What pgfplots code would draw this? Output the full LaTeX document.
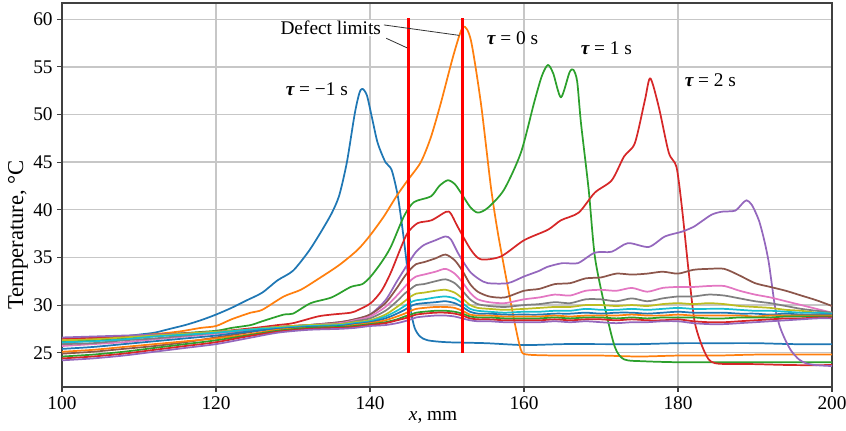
\documentclass[border=0pt]{standalone}
\usepackage{pgfplots}
\pgfplotsset{compat=1.18}
\usepackage{fontspec}
\setmainfont{Liberation Serif}
\definecolor{c1}{HTML}{1F77B4}
\definecolor{c2}{HTML}{FF7F0E}
\definecolor{c3}{HTML}{2CA02C}
\definecolor{c4}{HTML}{D62728}
\definecolor{c5}{HTML}{9467BD}
\definecolor{c6}{HTML}{8C564B}
\definecolor{c7}{HTML}{E377C2}
\definecolor{c8}{HTML}{7F7F7F}
\definecolor{c9}{HTML}{BCBD22}
\definecolor{c10}{HTML}{17BECF}
\newcommand{\tl}{{\bfseries\itshape τ}}
\begin{document}
\begin{tikzpicture}
\begin{axis}[
  scale only axis,
  width=577.5pt, height=288pt,
  xmin=100, xmax=200, ymin=21.4, ymax=61.7,
  xtick={100,120,...,200}, ytick={25,30,...,60},
  grid=major,
  major grid style={draw=black!22, line width=1pt},
  axis line style={draw=black!75, line width=1pt},
  tick style={draw=black!75, line width=0.8pt},
  tick align=outside, major tick length=3.5pt,
  xtick pos=lower, ytick pos=left,
  ticklabel style={font=\fontsize{14.5}{16}\selectfont},
  /pgf/number format/assume math mode=true,
  xlabel={\textit{x}, mm},
  ylabel={Temperature, °C},
  every axis x label/.style={at={(rel axis cs:0.482,0)}, anchor=center, yshift=-22.5pt, font=\fontsize{14.5}{16}\selectfont},
  every axis y label/.style={at={(rel axis cs:0,0.396)}, anchor=center, rotate=90, yshift=33pt, font=\fontsize{17}{19}\selectfont},
  every axis plot/.append style={line width=1.3pt, no markers, line join=round, smooth, tension=0.45},
]
% tau = -1 s
\addplot[c1] coordinates {(100,26.0) (105,26.4) (110,26.9) (112,27.1) (114,27.5) (116,27.9) (118,28.4) (120,29.0) (122,29.7) (124,30.5) (126,31.3) (128,32.6) (130,33.6) (132,35.6) (133.5,37.5) (135,39.6) (136,41.5) (137,45.0) (138,50.0) (138.6,52.2) (139,52.7) (139.6,52.0) (140.3,49.5) (141,47.0) (142,45.0) (142.8,44.2) (143.6,41.5) (144.3,37.5) (144.9,33.4) (145.3,29.5) (145.8,27.6) (146.5,26.7) (147.5,26.3) (150,26.1) (155,26.0) (160,25.8) (165,25.9) (170,25.9) (175,25.9) (180,26.0) (185,26.0) (190,26.0) (195,25.9) (200,25.9)};
% tau = 0 s
\addplot[c2] coordinates {(100,26.3) (105,26.5) (110,26.8) (115,27.2) (118,27.6) (120,27.8) (122,28.5) (124.5,29.2) (126,29.5) (128.8,30.9) (131,31.6) (133.2,32.7) (136,34.2) (138.4,35.8) (140,37.3) (141.8,39.3) (143.5,41.5) (144.9,43.1) (146.6,45.0) (147.9,47.6) (149.2,51.2) (150.9,56.4) (152.1,59.2) (153.1,57.8) (154.4,51.2) (155.7,42.4) (156.6,37.6) (157.9,31.9) (158.7,28.5) (159.6,25.3) (160.5,24.8) (165,24.7) (170,24.7) (175,24.6) (180,24.7) (185,24.7) (190,24.8) (195,24.8) (200,24.8)};
% tau = 1 s
\addplot[c3] coordinates {(100,26.2) (105,26.4) (110,26.6) (115,27.0) (120,27.3) (122,27.6) (124.5,27.9) (126,28.3) (128.8,29.0) (130,29.1) (132.3,30.2) (135,30.8) (137.5,31.9) (139,32.2) (140.1,33.0) (141.5,34.5) (142.7,36.1) (144.4,39.3) (145.7,40.8) (147.9,41.4) (149,42.5) (150.1,43.1) (151,42.7) (151.8,41.8) (153,40.3) (154,39.7) (155.3,40.2) (157.4,42.1) (159.6,46.0) (161.3,51.2) (162.3,54.0) (163.1,55.2) (163.8,54.3) (164.8,51.8) (165.9,54.4) (166.4,54.7) (166.9,53.5) (167.4,49.1) (168.4,42.1) (169.2,35.1) (170.5,29.8) (171.8,25.6) (173,24.3) (175.6,24.1) (180,24.0) (185,24.0) (190,24.0) (195,24.0) (200,24.0)};
% tau = 2 s
\addplot[c4] coordinates {(100,26.5) (105,26.6) (110,26.8) (115,27.0) (120,27.2) (125,27.6) (128,27.9) (130,28.1) (133.2,28.8) (135,29.0) (137.5,29.2) (138.5,29.5) (140.1,30.2) (141.5,31.5) (142.7,33.4) (144,36.0) (144.9,37.6) (146.2,38.6) (148,38.9) (149.9,39.8) (150.5,39.6) (151.4,38.2) (153.1,35.8) (154.4,34.8) (157,35.1) (160,36.8) (163.1,37.9) (164.8,38.9) (167.1,39.7) (169.2,41.8) (171.4,43.1) (173,45.6) (174.4,47.0) (175.7,51.5) (176.4,53.8) (177.5,50.8) (178.8,46.0) (179.8,44.5) (180.5,40.3) (181.4,33.4) (182.2,28.1) (183.5,25.0) (184.8,23.9) (190,23.8) (195,23.7) (200,23.7)};
% tau = 3 s
\addplot[c5] coordinates {(100,26.6) (104,26.7) (108,26.8) (112,26.9) (116,27.0) (120,27.2) (124,27.4) (128,27.7) (132,27.9) (136,28.2) (138,28.5) (140,29.0) (142,30.5) (143.5,32.5) (144.5,33.8) (145.3,34.8) (146,35.6) (147,36.3) (148.5,36.8) (149.8,37.2) (150.5,36.9) (151.4,35.5) (152.3,34.3) (153.1,33.4) (154.2,32.7) (155.3,32.3) (157.9,32.3) (160,33.0) (162,33.6) (163,34.0) (165,34.4) (167,34.4) (169.2,35.5) (171.4,35.6) (173.5,36.5) (176.2,36.1) (178.3,37.2) (180.5,37.7) (182,38.2) (183.1,38.8) (184.4,39.5) (185.7,39.8) (187.4,39.9) (188.3,40.6) (188.9,41.0) (189.6,40.5) (190.5,38.9) (191.2,36.8) (191.8,34.4) (192.6,29.8) (193.2,27.8) (193.9,26.4) (194.7,25.2) (195.7,24.3) (196.6,23.9) (197.8,23.7) (200,23.6)};
% later curves
\addplot[c6] coordinates {(100,24.9) (104,25.1) (108,25.4) (112,25.7) (116,26.1) (120,26.6) (124,27.1) (128,27.6) (132,27.9) (136,28.2) (138,28.5) (140,29.0) (142,30.2) (143.5,31.8) (144.5,33.0) (145.3,33.8) (146,34.3) (147,34.5) (148.5,34.9) (149.8,35.3) (151,34.7) (152,33.6) (153,32.2) (154,31.4) (155.5,30.9) (157.5,30.8) (160,31.5) (162,31.7) (164,32.2) (166,32.3) (168,32.8) (170,32.9) (172,33.3) (174,33.2) (176,33.3) (178,33.5) (180,33.3) (182,33.7) (184,33.8) (186,33.8) (188,33.1) (190,32.3) (192,31.9) (194,31.5) (196,31.0) (198,30.5) (200,29.9)};
\addplot[c7] coordinates {(100,25.7) (104,25.9) (108,26.1) (112,26.4) (116,26.7) (120,27.0) (124,27.3) (128,27.7) (132,27.9) (136,28.1) (138,28.4) (140,28.8) (142,29.8) (143.5,31.0) (144.5,31.9) (145.3,32.6) (146,33.0) (147,33.2) (148.5,33.5) (149.8,33.8) (151,33.3) (152,32.4) (153,31.3) (154,30.6) (155.5,30.3) (157.5,30.2) (160,30.6) (162,30.8) (164,31.1) (166,31.0) (168,31.5) (170,31.6) (172,31.5) (174,31.8) (176,31.4) (178,31.8) (180,31.9) (182,31.9) (184,32.0) (186,32.0) (188,31.5) (190,31.1) (192,30.8) (194,30.4) (196,30.0) (198,29.6) (200,29.2)};
\addplot[c8] coordinates {(100,25.9) (104,26.0) (108,26.3) (112,26.5) (116,26.8) (120,27.1) (124,27.4) (128,27.7) (132,27.9) (136,28.0) (138,28.3) (140,28.6) (142,29.4) (143.5,30.4) (144.5,31.2) (145.3,31.7) (146,32.1) (147,32.2) (148.5,32.5) (149.8,32.7) (151,32.3) (152,31.5) (153,30.6) (154,30.1) (155.5,29.9) (157.5,29.8) (160,30.0) (162,30.1) (164,30.3) (166,30.2) (168,30.6) (170,30.6) (172,30.4) (174,30.7) (176,30.4) (178,30.7) (180,30.9) (182,30.9) (184,31.1) (186,31.0) (188,30.7) (190,30.4) (192,30.2) (194,29.9) (196,29.6) (198,29.4) (200,29.2)};
\addplot[c9] coordinates {(100,26.3) (104,26.4) (108,26.6) (112,26.8) (116,27.0) (120,27.2) (124,27.4) (128,27.7) (132,27.9) (136,28.0) (138,28.2) (140,28.4) (142,29.0) (143.5,29.8) (144.5,30.4) (145.3,30.9) (146,31.2) (147,31.3) (148.5,31.5) (149.8,31.6) (151,31.3) (152,30.7) (153,30.0) (154,29.7) (155.5,29.6) (157.5,29.5) (160,29.6) (162,29.7) (164,29.8) (166,29.8) (168,30.0) (170,30.0) (172,29.9) (174,30.0) (176,29.9) (178,30.1) (180,30.2) (182,30.1) (184,30.2) (186,30.1) (188,29.9) (190,29.8) (192,29.7) (194,29.5) (196,29.4) (198,29.2) (200,29.1)};
\addplot[c10] coordinates {(100,26.1) (104,26.2) (108,26.4) (112,26.7) (116,26.9) (120,27.1) (124,27.4) (128,27.6) (132,27.8) (136,27.9) (138,28.1) (140,28.3) (142,28.8) (143.5,29.4) (144.5,29.9) (145.3,30.3) (146,30.5) (147,30.6) (148.5,30.8) (149.8,30.9) (151,30.7) (152,30.2) (153,29.6) (154,29.4) (155.5,29.3) (157.5,29.2) (160,29.3) (162,29.3) (164,29.4) (166,29.4) (168,29.6) (170,29.5) (172,29.5) (174,29.6) (176,29.5) (178,29.6) (180,29.7) (182,29.6) (184,29.6) (186,29.6) (188,29.5) (190,29.4) (192,29.4) (194,29.3) (196,29.2) (198,29.2) (200,29.1)};
\addplot[c1] coordinates {(100,25.4) (104,25.6) (108,25.9) (112,26.2) (116,26.5) (120,26.8) (124,27.2) (128,27.5) (132,27.7) (136,27.8) (138,28.0) (140,28.2) (142,28.6) (143.5,29.1) (144.5,29.5) (145.3,29.9) (146,30.1) (147,30.2) (148.5,30.3) (149.8,30.4) (151,30.2) (152,29.8) (153,29.3) (154,29.1) (155.5,29.1) (157.5,29.0) (160,29.0) (162,29.0) (164,29.1) (166,29.1) (168,29.2) (170,29.1) (172,29.2) (174,29.2) (176,29.1) (178,29.2) (180,29.3) (182,29.2) (184,29.2) (186,29.2) (188,29.1) (190,29.1) (192,29.0) (194,29.1) (196,29.0) (198,29.0) (200,29.0)};
\addplot[c2] coordinates {(100,25.1) (104,25.3) (108,25.6) (112,25.9) (116,26.2) (120,26.5) (124,26.9) (128,27.4) (132,27.6) (136,27.7) (138,27.9) (140,28.1) (142,28.4) (143.5,28.8) (144.5,29.1) (145.3,29.4) (146,29.6) (147,29.7) (148.5,29.8) (149.8,29.8) (151,29.7) (152,29.4) (153,29.0) (154,28.9) (155.5,28.9) (157.5,28.8) (160,28.8) (162,28.8) (164,28.9) (166,28.8) (168,28.9) (170,28.9) (172,28.9) (174,29.0) (176,28.9) (178,28.9) (180,29.0) (182,28.9) (184,28.9) (186,28.9) (188,28.9) (190,28.8) (192,28.9) (194,28.9) (196,28.9) (198,28.9) (200,28.9)};
\addplot[c3] coordinates {(100,24.6) (104,24.8) (108,25.1) (112,25.5) (116,25.9) (120,26.3) (124,26.8) (128,27.3) (132,27.6) (136,27.7) (138,27.8) (140,28.0) (142,28.2) (143.5,28.5) (144.5,28.8) (145.3,29.0) (146,29.2) (147,29.3) (148.5,29.4) (149.8,29.4) (151,29.3) (152,29.1) (153,28.8) (154,28.7) (155.5,28.7) (157.5,28.6) (160,28.6) (162,28.6) (164,28.7) (166,28.6) (168,28.7) (170,28.7) (172,28.6) (174,28.7) (176,28.6) (178,28.7) (180,28.7) (182,28.7) (184,28.6) (186,28.6) (188,28.7) (190,28.7) (192,28.7) (194,28.8) (196,28.8) (198,28.8) (200,28.8)};
\addplot[c4] coordinates {(100,24.4) (104,24.6) (108,24.9) (112,25.3) (116,25.7) (120,26.1) (124,26.7) (128,27.2) (132,27.5) (136,27.6) (138,27.7) (140,27.9) (142,28.1) (143.5,28.4) (144.5,28.6) (145.3,28.8) (146,29.0) (147,29.1) (148.5,29.2) (149.8,29.2) (151,29.1) (152,28.9) (153,28.6) (154,28.5) (155.5,28.5) (157.5,28.4) (160,28.4) (162,28.4) (164,28.5) (166,28.4) (168,28.5) (170,28.5) (172,28.4) (174,28.5) (176,28.4) (178,28.4) (180,28.5) (182,28.3) (184,28.2) (186,28.2) (188,28.3) (190,28.4) (192,28.5) (194,28.6) (196,28.6) (198,28.7) (200,28.7)};
\addplot[c5] coordinates {(100,24.2) (104,24.4) (108,24.7) (112,25.1) (116,25.5) (120,25.9) (124,26.5) (128,27.1) (132,27.4) (136,27.5) (138,27.6) (140,27.8) (142,27.9) (143.5,28.1) (144.5,28.3) (145.3,28.5) (146,28.7) (147,28.8) (148.5,28.9) (149.8,28.9) (151,28.8) (152,28.6) (153,28.4) (154,28.3) (155.5,28.3) (157.5,28.2) (160,28.2) (162,28.2) (164,28.3) (166,28.2) (168,28.3) (170,28.2) (172,28.1) (174,28.2) (176,28.2) (178,28.3) (180,28.3) (182,28.1) (184,28.0) (186,28.0) (188,28.1) (190,28.2) (192,28.3) (194,28.4) (196,28.5) (198,28.6) (200,28.6)};
% defect limits
\addplot[red, line width=2.25pt, sharp plot] coordinates {(145,25) (145,60.1)};
\addplot[red, line width=2.25pt, sharp plot] coordinates {(152,25) (152,60.1)};
\draw[black!80, line width=0.6pt] (axis cs:141.8,59.4) -- (axis cs:151.6,58.3);
\draw[black!80, line width=0.6pt] (axis cs:142.1,58.0) -- (axis cs:144.8,57.0);
\node[font=\fontsize{14.5}{16}\selectfont, fill=white, inner sep=1pt] at (axis cs:134.9,59.1) {Defect limits};
\node[font=\fontsize{14.5}{16}\selectfont] at (axis cs:133.1,52.6) {\tl\ = −1 s};
\node[font=\fontsize{14.5}{16}\selectfont] at (axis cs:158.5,58.0) {\tl\ = 0 s};
\node[font=\fontsize{14.5}{16}\selectfont] at (axis cs:170.7,57.0) {\tl\ = 1 s};
\node[font=\fontsize{14.5}{16}\selectfont] at (axis cs:184.2,53.6) {\tl\ = 2 s};
\end{axis}
\path (current axis.south west) ++(-46.5pt,-32.25pt) coordinate (BBa);
\path (current axis.north east) ++(10.5pt,2.25pt) coordinate (BBb);
\pgfresetboundingbox
\useasboundingbox (BBa) rectangle (BBb);
\end{tikzpicture}
\end{document}
